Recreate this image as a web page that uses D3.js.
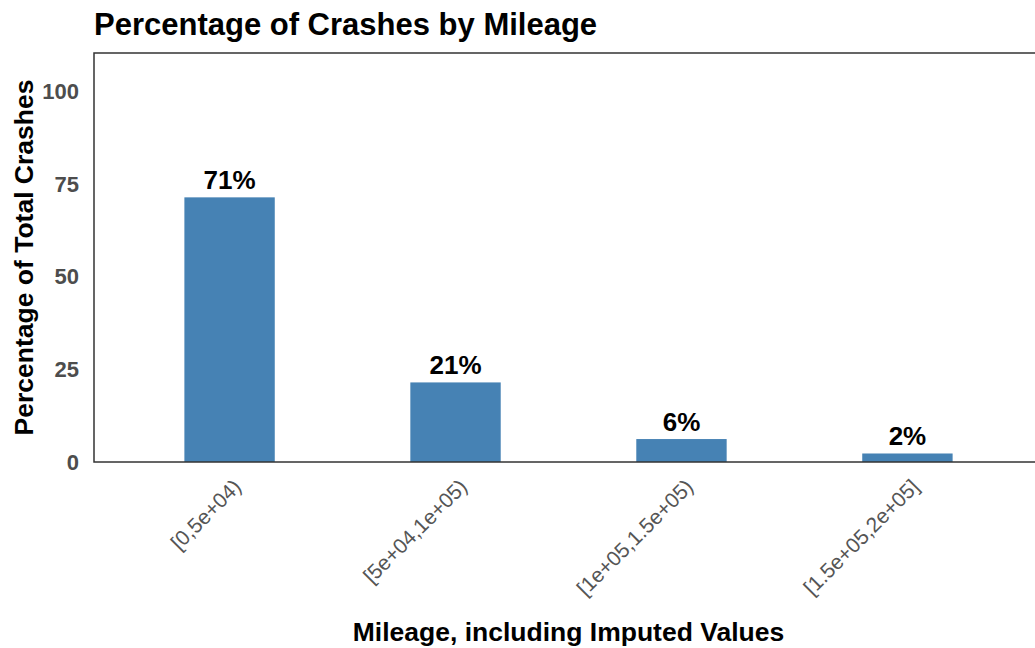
<!DOCTYPE html>
<html>
<head>
<meta charset="utf-8">
<script src="https://cdn.jsdelivr.net/npm/d3@7"></script>
<style>
  body { margin: 0; background: #fff; }
  svg { font-family: "Liberation Sans", Arial, sans-serif; }
</style>
</head>
<body>
<div id="chart"></div>
<script>
// data
var categories = ["[0,5e+04)", "[5e+04,1e+05)", "[1e+05,1.5e+05)", "[1.5e+05,2e+05]"];
var percents = [71.5, 21.5, 6.2, 2.3];
var barLabels = ["71%", "21%", "6%", "2%"];
var yTicks = [0, 25, 50, 75, 100];

var width = 1035, height = 648;
var panelTop = 53, panelBottom = 462, panelLeft = 94;
var panelRight = 1043; // panel runs a little past the window edge

var svg = d3.select("#chart").append("svg")
    .attr("width", width)
    .attr("height", height);

var x = d3.scaleBand()
    .domain(categories)
    .range([panelLeft, panelRight])
    .paddingInner(0.6)
    .paddingOuter(0.4);

var y = d3.scaleLinear()
    .domain([0, 110.5])
    .range([panelBottom, panelTop]);

// bars
svg.append("g").selectAll("rect")
    .data(percents)
    .enter().append("rect")
    .attr("x", function(d, i) { return x(categories[i]); })
    .attr("width", x.bandwidth())
    .attr("y", function(d) { return y(d); })
    .attr("height", function(d) { return y(0) - y(d); })
    .attr("fill", "#4682b4");

// value labels
svg.append("g").selectAll("text")
    .data(percents)
    .enter().append("text")
    .attr("x", function(d, i) { return x(categories[i]) + x.bandwidth() / 2; })
    .attr("y", function(d) { return y(d) - 8; })
    .attr("text-anchor", "middle")
    .attr("font-size", 26)
    .attr("font-weight", "bold")
    .attr("fill", "#000")
    .text(function(d, i) { return barLabels[i]; });

// panel border (top + left + bottom)
svg.append("rect")
    .attr("x", panelLeft)
    .attr("y", panelTop)
    .attr("width", panelRight - panelLeft)
    .attr("height", panelBottom - panelTop)
    .attr("fill", "none")
    .attr("stroke", "#333")
    .attr("stroke-width", 1.5);

// y axis
var yAxis = svg.append("g")
    .attr("transform", "translate(" + panelLeft + ",0)")
    .call(d3.axisLeft(y).tickValues(yTicks).tickSize(0).tickPadding(15));
yAxis.select(".domain").remove();
yAxis.selectAll("text")
    .attr("font-size", 22)
    .attr("font-weight", "bold")
    .attr("fill", "#4d4d4d")
    .attr("font-family", "Liberation Sans, Arial, sans-serif");

// x axis
var xAxis = svg.append("g")
    .attr("transform", "translate(0," + y(0) + ")")
    .call(d3.axisBottom(x).tickSize(0).tickPadding(0));
xAxis.select(".domain").remove();
xAxis.selectAll("text")
    .attr("font-size", 21)
    .attr("fill", "#555")
    .attr("font-family", "Liberation Sans, Arial, sans-serif")
    .attr("text-anchor", "end")
    .attr("dy", null)
    .attr("y", 0)
    .attr("transform", "translate(13,26) rotate(-45)");

// titles
svg.append("text")
    .attr("x", panelLeft)
    .attr("y", 35)
    .attr("font-size", 31)
    .attr("font-weight", "bold")
    .attr("fill", "#000")
    .text("Percentage of Crashes by Mileage");

svg.append("text")
    .attr("x", (panelLeft + panelRight) / 2)
    .attr("y", 641)
    .attr("text-anchor", "middle")
    .attr("font-size", 26.5)
    .attr("font-weight", "bold")
    .attr("fill", "#000")
    .text("Mileage, including Imputed Values");

svg.append("text")
    .attr("transform", "translate(33," + (panelTop + panelBottom) / 2 + ") rotate(-90)")
    .attr("text-anchor", "middle")
    .attr("font-size", 26.5)
    .attr("font-weight", "bold")
    .attr("fill", "#000")
    .text("Percentage of Total Crashes");
</script>
</body>
</html>
